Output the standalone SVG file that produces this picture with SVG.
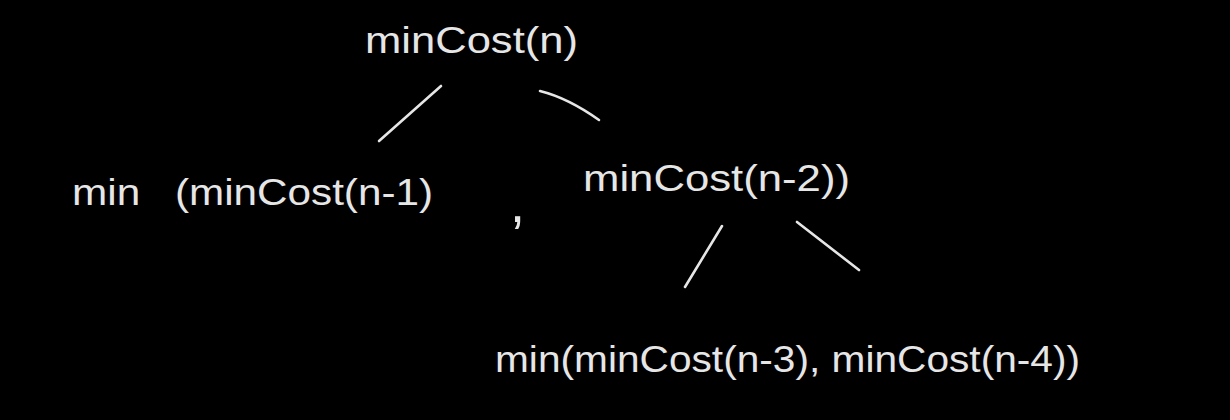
<svg xmlns="http://www.w3.org/2000/svg" width="1230" height="420" viewBox="0 0 1230 420">
<style>
.t{font-family:"Liberation Sans","DejaVu Sans",sans-serif;font-size:36px;fill:#e6e6e6}
.c{fill:none;stroke:#e6e6e6;stroke-width:2.6;stroke-linecap:round}
</style>
<rect width="1230" height="420" fill="#000"/>
<g id="root"><text class="t" x="365" y="53" textLength="213" lengthAdjust="spacingAndGlyphs">minCost(n)</text></g>
<g id="left"><text class="t" y="205"><tspan x="72" textLength="80" lengthAdjust="spacingAndGlyphs">min </tspan><tspan x="175" textLength="258" lengthAdjust="spacingAndGlyphs">(minCost(n-1)</tspan></text></g>
<g id="comma"><text class="t" x="510" y="222" style="font-size:54px">,</text></g>
<g id="right"><text class="t" x="583" y="191" textLength="267" lengthAdjust="spacingAndGlyphs">minCost(n-2))</text></g>
<g id="bottom"><text class="t" x="495" y="372" textLength="585" lengthAdjust="spacingAndGlyphs">min(minCost(n-3), minCost(n-4))</text></g>
<g id="connectors">
<path class="c" d="M441 86 L379 141"/>
<path class="c" d="M540 91 Q568 98 599 120"/>
<path class="c" d="M722 226 L685 287"/>
<path class="c" d="M797 222 L859 270"/>
</g>
</svg>
